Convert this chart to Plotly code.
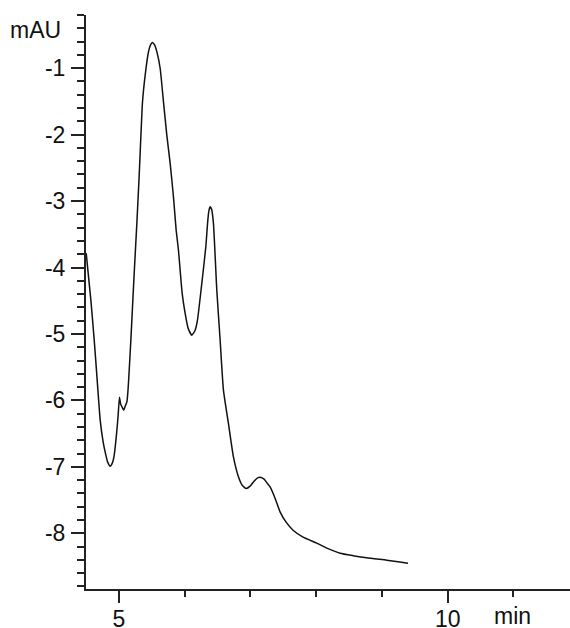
import plotly.graph_objects as go

# Chromatogram trace (time in min, signal in mAU)
time_min = [4.503, 4.533, 4.574, 4.625, 4.670, 4.716, 4.761, 4.792, 4.830, 4.868,
            4.906, 4.929, 4.967, 4.989, 5.009, 5.027, 5.050, 5.073, 5.096, 5.122,
            5.141, 5.157, 5.182, 5.233, 5.274, 5.309, 5.334, 5.359, 5.400, 5.450,
            5.480, 5.511, 5.541, 5.578, 5.628, 5.678, 5.729, 5.780, 5.830, 5.871,
            5.906, 5.929, 5.962, 6.007, 6.053, 6.109, 6.160, 6.195, 6.255, 6.322,
            6.350, 6.368, 6.388, 6.410, 6.438, 6.489, 6.540, 6.590, 6.666, 6.742,
            6.818, 6.874, 6.935, 6.996, 7.056, 7.117, 7.163, 7.208, 7.254, 7.299,
            7.375, 7.451, 7.543, 7.649, 7.801, 8.009, 8.181, 8.363, 8.561, 8.769,
            9.073, 9.245, 9.397]
signal_mau = [-3.784, -4.085, -4.491, -5.093, -5.695, -6.297, -6.628, -6.779, -6.929, -6.989,
              -6.929, -6.824, -6.478, -6.222, -5.951, -6.056, -6.102, -6.147, -6.087, -6.022,
              -5.816, -5.545, -5.093, -4.085, -3.318, -2.610, -2.038, -1.512, -1.105, -0.755,
              -0.654, -0.613, -0.646, -0.755, -1.005, -1.507, -2.008, -2.434, -2.937, -3.438,
              -3.739, -4.010, -4.386, -4.687, -4.913, -5.018, -4.943, -4.792, -4.291, -3.689,
              -3.317, -3.152, -3.087, -3.122, -3.337, -4.341, -5.094, -5.846, -6.347, -6.850,
              -7.150, -7.275, -7.325, -7.290, -7.215, -7.162, -7.160, -7.185, -7.245, -7.301,
              -7.471, -7.677, -7.832, -7.953, -8.058, -8.148, -8.231, -8.299, -8.336, -8.369,
              -8.404, -8.427, -8.449]

y_tickvals = [-1, -2, -3, -4, -5, -6, -7, -8]
y_ticktext = ["-1", "-2", "-3", "-4", "-5", "-6", "-7", "-8"]
x_tickvals = [5, 10]
x_ticktext = ["5", "10"]

FONT = "Liberation Sans, Arial, Helvetica, sans-serif"
FS = 23

fig = go.Figure()
fig.add_trace(go.Scatter(
    x=time_min, y=signal_mau, mode="lines",
    line=dict(color="#111111", width=1.5, shape="spline", smoothing=0.5),
    showlegend=False, hoverinfo="skip",
))

fig.update_layout(
    width=570, height=628,
    margin=dict(l=86, r=0, t=15, b=39, autoexpand=False),
    paper_bgcolor="white", plot_bgcolor="white",
    font=dict(family=FONT, size=FS, color="#111111"),
    xaxis=dict(
        range=[4.5, 11.86], showgrid=False, zeroline=False, automargin=False,
        showline=True, linecolor="#222222", linewidth=2,
        tickmode="array", tickvals=x_tickvals, ticktext=x_ticktext,
        ticks="outside", ticklen=12, tickwidth=2, tickcolor="#222222",
        ticklabelstandoff=-4,
        minor=dict(dtick=1, tick0=0, ticks="outside", ticklen=6, tickwidth=2,
                   tickcolor="#222222", showgrid=False),
        tickfont=dict(family=FONT, size=FS, color="#111111"),
    ),
    yaxis=dict(
        range=[-8.838, -0.2], showgrid=False, zeroline=False, automargin=False,
        showline=True, linecolor="#222222", linewidth=2,
        tickmode="array", tickvals=y_tickvals, ticktext=y_ticktext,
        ticks="outside", ticklen=13, tickwidth=2, tickcolor="#222222",
        ticklabelstandoff=1,
        minor=dict(dtick=0.2, tick0=0, ticks="outside", ticklen=7, tickwidth=2,
                   tickcolor="#222222", showgrid=False),
        tickfont=dict(family=FONT, size=FS, color="#111111"),
    ),
    annotations=[
        dict(text="mAU", xref="paper", yref="paper", x=-0.0475, y=0.974,
             xanchor="right", yanchor="middle", showarrow=False,
             font=dict(family=FONT, size=FS, color="#111111")),
        dict(text="min", xref="paper", yref="paper", x=0.882, y=-0.047,
             xanchor="center", yanchor="middle", showarrow=False,
             font=dict(family=FONT, size=FS, color="#111111")),
    ],
)

fig.write_html("out.html")
